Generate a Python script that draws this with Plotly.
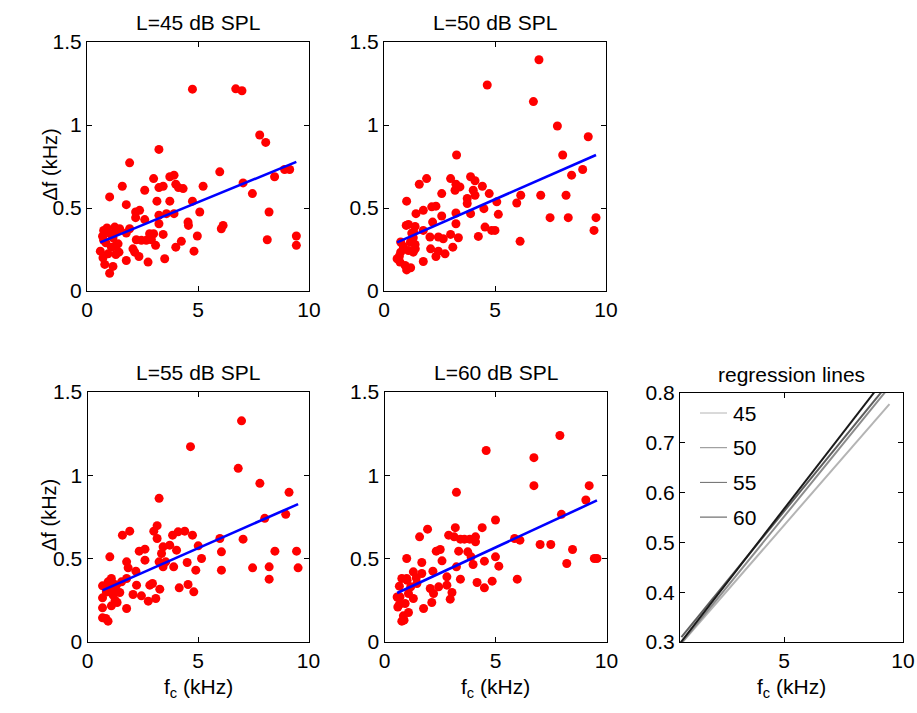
import numpy as np
import plotly.graph_objects as go

W, H = 917, 713
FONT = "Liberation Sans, Arial, sans-serif"
FS = 21

levels = [45, 50, 55, 60]

# centre frequency (kHz) and bandwidth (kHz) per presentation level
fc_45 = [4.75, 6.70, 6.98, 7.78, 8.05, 3.24, 1.92, 5.98, 8.90, 9.13,
         8.45, 3.00, 3.73, 3.92, 1.59, 3.24, 3.43, 4.00, 4.12, 4.33,
         5.23, 7.03, 2.60, 1.02, 7.45, 3.15, 3.73, 4.75, 1.77, 2.19,
         2.37, 5.08, 8.20, 2.19, 2.60, 3.24, 3.58, 3.92, 3.24, 4.55,
         4.57, 6.13, 6.05, 0.75, 1.25, 1.47, 1.92, 1.77, 1.05, 2.82,
         3.00, 3.43, 4.97, 0.75, 1.17, 2.22, 2.45, 2.67, 2.90, 4.25,
         8.12, 9.43, 9.43, 1.40, 1.10, 1.44, 0.60, 0.95, 2.07, 2.15,
         3.09, 4.00, 4.82, 2.34, 1.77, 2.75, 3.50, 0.80, 1.17, 1.02,
         0.70, 0.90, 1.30, 0.85, 1.25, 0.72, 1.30]
df_45 = [1.216, 1.218, 1.206, 0.940, 0.895, 0.853, 0.772, 0.718, 0.732, 0.732,
         0.688, 0.677, 0.688, 0.698, 0.631, 0.623, 0.631, 0.643, 0.623, 0.617,
         0.631, 0.651, 0.607, 0.567, 0.587, 0.541, 0.541, 0.541, 0.520, 0.476,
         0.486, 0.476, 0.476, 0.442, 0.430, 0.456, 0.466, 0.466, 0.405, 0.415,
         0.395, 0.395, 0.375, 0.365, 0.385, 0.375, 0.375, 0.349, 0.345, 0.345,
         0.345, 0.341, 0.331, 0.305, 0.321, 0.309, 0.305, 0.305, 0.309, 0.299,
         0.309, 0.331, 0.275, 0.284, 0.264, 0.234, 0.240, 0.224, 0.254, 0.234,
         0.275, 0.264, 0.240, 0.208, 0.184, 0.174, 0.194, 0.160, 0.148, 0.107,
         0.330, 0.380, 0.360, 0.290, 0.270, 0.200, 0.220]

fc_50 = [6.98, 4.65, 6.73, 7.81, 9.20, 3.27, 8.05, 1.92, 1.59, 3.00,
         3.90, 4.10, 3.24, 3.42, 3.20, 4.43, 4.02, 8.45, 8.95, 2.60,
         3.75, 4.10, 4.74, 3.75, 1.02, 5.08, 5.98, 6.16, 7.06, 8.20,
         2.15, 2.34, 1.77, 1.44, 2.60, 3.24, 3.90, 4.50, 5.15, 7.48,
         8.30, 9.55, 2.19, 3.24, 1.10, 1.40, 4.55, 4.85, 5.00, 9.46,
         1.77, 1.25, 2.07, 2.45, 2.67, 3.00, 3.35, 4.25, 6.13, 0.75,
         1.40, 2.10, 3.10, 2.45, 1.10, 2.75, 2.34, 0.69, 1.32, 1.77,
         0.72, 0.95, 1.20, 1.02, 1.00, 1.32, 0.87, 0.75, 0.59, 1.41,
         1.19, 1.34]
df_50 = [1.393, 1.241, 1.141, 0.994, 0.929, 0.819, 0.819, 0.677, 0.643, 0.677,
         0.688, 0.664, 0.643, 0.627, 0.607, 0.631, 0.607, 0.698, 0.732, 0.587,
         0.557, 0.577, 0.587, 0.527, 0.541, 0.537, 0.530, 0.577, 0.577, 0.577,
         0.507, 0.511, 0.486, 0.466, 0.452, 0.470, 0.466, 0.496, 0.462, 0.442,
         0.442, 0.442, 0.415, 0.405, 0.401, 0.389, 0.385, 0.365, 0.365, 0.365,
         0.365, 0.349, 0.325, 0.325, 0.315, 0.341, 0.321, 0.329, 0.299, 0.295,
         0.280, 0.254, 0.264, 0.240, 0.244, 0.224, 0.208, 0.208, 0.234, 0.178,
         0.174, 0.154, 0.140, 0.127, 0.395, 0.321, 0.268, 0.234, 0.194, 0.254,
         0.294, 0.355]

fc_55 = [6.97, 4.66, 6.82, 7.80, 9.12, 3.24, 8.02, 8.97, 1.58, 1.91,
         3.00, 3.15, 3.15, 3.85, 4.10, 4.40, 4.75, 3.42, 3.72, 4.03,
         5.01, 5.99, 7.04, 2.34, 2.60, 3.35, 1.01, 2.60, 1.77, 3.24,
         3.54, 4.51, 5.16, 6.06, 8.48, 9.46, 1.84, 3.42, 3.90, 4.90,
         6.06, 7.47, 8.22, 9.53, 8.22, 2.19, 1.08, 1.77, 0.68, 1.16,
         1.54, 2.22, 2.82, 2.94, 3.27, 4.15, 4.55, 4.81, 2.06, 2.44,
         2.75, 3.09, 1.46, 0.68, 1.16, 1.34, 1.08, 1.77, 0.68, 0.68,
         0.93, 0.83, 1.16, 0.93, 1.31, 0.85, 1.25, 1.00]
df_55 = [1.327, 1.172, 1.042, 0.952, 0.898, 0.862, 0.742, 0.766, 0.641, 0.665,
         0.665, 0.698, 0.621, 0.641, 0.661, 0.665, 0.641, 0.571, 0.581, 0.551,
         0.577, 0.621, 0.617, 0.545, 0.557, 0.531, 0.511, 0.491, 0.481, 0.481,
         0.481, 0.477, 0.501, 0.541, 0.545, 0.545, 0.445, 0.451, 0.451, 0.431,
         0.431, 0.445, 0.451, 0.445, 0.377, 0.425, 0.381, 0.381, 0.337, 0.351,
         0.361, 0.341, 0.341, 0.351, 0.317, 0.325, 0.345, 0.301, 0.285, 0.277,
         0.245, 0.261, 0.297, 0.265, 0.281, 0.237, 0.217, 0.201, 0.205, 0.145,
         0.125, 0.141, 0.317, 0.361, 0.341, 0.300, 0.250, 0.330]

fc_60 = [7.90, 4.58, 6.73, 6.73, 9.22, 3.24, 9.07, 7.97, 5.00, 1.94,
         1.58, 3.19, 2.89, 3.14, 3.42, 3.60, 3.84, 4.10, 4.10, 4.40,
         5.86, 6.10, 7.01, 7.49, 8.47, 2.33, 2.51, 3.34, 3.75, 1.00,
         2.59, 1.68, 3.90, 4.50, 5.00, 5.15, 3.99, 3.24, 8.21, 9.45,
         9.57, 1.30, 1.68, 2.18, 1.00, 1.43, 2.81, 3.42, 5.98, 4.17,
         4.85, 4.50, 0.67, 1.18, 2.06, 2.44, 2.81, 3.04, 2.21, 0.70,
         1.30, 2.13, 2.96, 0.67, 0.93, 1.76, 1.08, 0.85, 0.78, 0.88,
         1.08, 1.46, 0.78, 0.57, 0.60, 1.02]
df_60 = [1.239, 1.149, 1.106, 0.938, 0.938, 0.898, 0.852, 0.766, 0.732, 0.677,
         0.631, 0.686, 0.641, 0.631, 0.617, 0.617, 0.617, 0.631, 0.601, 0.686,
         0.621, 0.611, 0.585, 0.585, 0.555, 0.545, 0.555, 0.545, 0.541, 0.501,
         0.487, 0.477, 0.511, 0.485, 0.511, 0.455, 0.465, 0.451, 0.471, 0.501,
         0.501, 0.421, 0.411, 0.425, 0.381, 0.385, 0.391, 0.377, 0.377, 0.357,
         0.365, 0.325, 0.335, 0.331, 0.321, 0.331, 0.341, 0.297, 0.291, 0.271,
         0.261, 0.237, 0.257, 0.225, 0.231, 0.201, 0.177, 0.157, 0.125, 0.131,
         0.291, 0.351, 0.381, 0.270, 0.210, 0.370]

# linear fits  df = intercept + slope * fc
fit_intercept = [0.260, 0.258, 0.270, 0.259]
fit_slope = [0.0549, 0.0588, 0.0585, 0.0617]

line_grays = ["#b4b4b4", "#8c8c8c", "#5e5e5e", "#1a1a1a"]
legend_grays = ["#b4b4b4", "#8c8c8c", "#6a6a6a", "#505050"]

fc_sets = [fc_45, fc_50, fc_55, fc_60]
df_sets = [df_45, df_50, df_55, df_60]


def px_x(p):
    return p / W


def px_y(p):
    return 1 - p / H


# panel boxes in pixels: (left, right, top, bottom)
boxes = [
    (87, 309, 42, 291),
    (384, 606, 42, 291),
    (87.5, 308.5, 392, 642),
    (384.5, 606.5, 392, 642),
    (680, 903, 393, 642),
]

axis_common = dict(
    showline=True, linecolor="black", linewidth=1, mirror="ticks",
    ticks="inside", ticklen=5, tickcolor="black", tickwidth=1,
    showgrid=False, zeroline=False, automargin=False,
    tickfont=dict(family=FONT, size=FS, color="black"),
)

fig = go.Figure()
layout = dict(
    width=W, height=H, margin=dict(l=0, r=0, t=0, b=0, pad=0), autosize=False,
    paper_bgcolor="white", plot_bgcolor="white", showlegend=False,
    font=dict(family=FONT, size=FS, color="black"),
)

annotations = []
shapes = []

for i in range(5):
    l, r, t, b = boxes[i]
    xa = "xaxis" if i == 0 else f"xaxis{i + 1}"
    ya = "yaxis" if i == 0 else f"yaxis{i + 1}"
    xr = "x" if i == 0 else f"x{i + 1}"
    yr = "y" if i == 0 else f"y{i + 1}"
    if i < 4:
        layout[xa] = dict(axis_common, domain=[px_x(l), px_x(r)], range=[0, 10],
                          tickvals=[0, 5, 10], ticktext=["0", "5", "10"], anchor=yr)
        layout[ya] = dict(axis_common, domain=[px_y(b), px_y(t)], range=[0, 1.5],
                          tickvals=[0, 0.5, 1, 1.5], ticktext=["0", "0.5", "1", "1.5"],
                          anchor=xr)
        fc = np.array(fc_sets[i])
        df = np.array(df_sets[i])
        fig.add_trace(go.Scatter(
            x=fc, y=df, mode="markers", xaxis=xr, yaxis=yr,
            marker=dict(color="#ff0000", size=9, line=dict(width=0)),
        ))
        xfit = np.array([fc.min(), fc.max()])
        yfit = fit_intercept[i] + fit_slope[i] * xfit
        fig.add_trace(go.Scatter(
            x=xfit, y=yfit, mode="lines", xaxis=xr, yaxis=yr,
            line=dict(color="#0000ff", width=2.6),
        ))
        annotations.append(dict(
            text=f"L={levels[i]} dB SPL", x=px_x((l + r) / 2), y=px_y(t),
            xref="paper", yref="paper", xanchor="center", yanchor="bottom",
            yshift=6, showarrow=False, font=dict(family=FONT, size=FS),
        ))
    else:
        layout[xa] = dict(axis_common, domain=[px_x(l), px_x(r)], range=[0.62, 10],
                          tickvals=[5, 10], ticktext=["5", "10"], anchor=yr)
        layout[ya] = dict(axis_common, domain=[px_y(b), px_y(t)], range=[0.3, 0.8],
                          tickvals=[0.3, 0.4, 0.5, 0.6, 0.7, 0.8],
                          ticktext=["0.3", "0.4", "0.5", "0.6", "0.7", "0.8"],
                          anchor=xr)
        for k in range(4):
            fc = np.array(fc_sets[k])
            xfit = np.array([fc.min(), fc.max()])
            yfit = fit_intercept[k] + fit_slope[k] * xfit
            fig.add_trace(go.Scatter(
                x=xfit, y=yfit, mode="lines", xaxis=xr, yaxis=yr,
                line=dict(color=line_grays[k], width=2),
            ))
        annotations.append(dict(
            text="regression lines", x=px_x((l + r) / 2), y=px_y(t),
            xref="paper", yref="paper", xanchor="center", yanchor="bottom",
            yshift=5, showarrow=False, font=dict(family=FONT, size=FS),
        ))
        # key for the four fitted lines
        for k in range(4):
            ry = 413 + k * 34.7
            shapes.append(dict(
                type="line", xref="paper", yref="paper",
                x0=px_x(700), x1=px_x(727), y0=px_y(ry), y1=px_y(ry),
                line=dict(color=legend_grays[k], width=1),
            ))
            annotations.append(dict(
                text=str(levels[k]), x=px_x(731), y=px_y(ry),
                xref="paper", yref="paper", xanchor="left", yanchor="middle",
                showarrow=False, font=dict(family=FONT, size=FS),
            ))

# axis labels
for (l, r, t, b) in [boxes[0], boxes[2]]:
    annotations.append(dict(
        text="\u0394f (kHz)", x=px_x(49), y=px_y((t + b) / 2 - 2),
        xref="paper", yref="paper", xanchor="center", yanchor="middle",
        textangle=-90, showarrow=False, font=dict(family=FONT, size=20),
    ))
for (l, r, t, b) in boxes[2:]:
    annotations.append(dict(
        text="f<sub>c</sub> (kHz)", x=px_x((l + r) / 2), y=px_y(688),
        xref="paper", yref="paper", xanchor="center", yanchor="middle",
        showarrow=False, font=dict(family=FONT, size=FS),
    ))

layout["annotations"] = annotations
layout["shapes"] = shapes
fig.update_layout(**layout)

fig.write_html("out.html")
